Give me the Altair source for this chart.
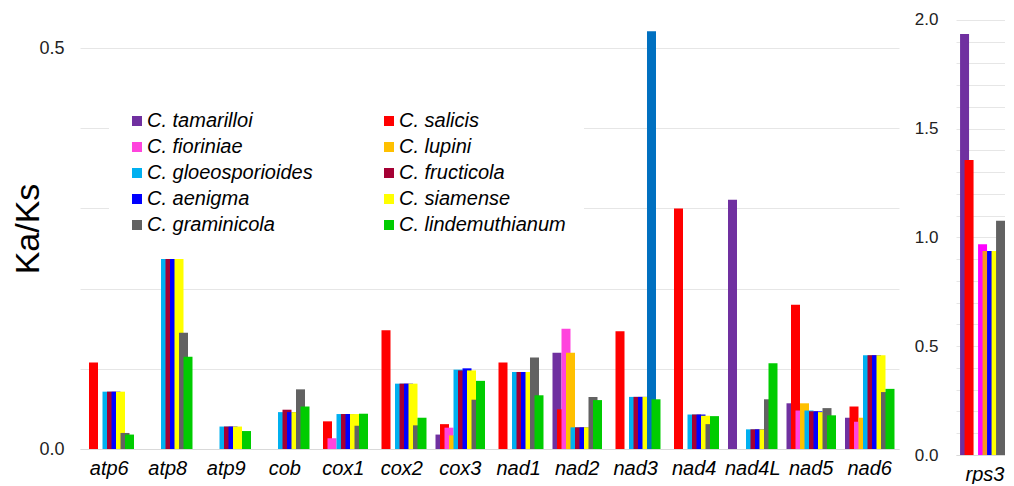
import altair as alt
import pandas as pd

genes = ["atp6", "atp8", "atp9", "cob", "cox1", "cox2", "cox3", "nad1",
         "nad2", "nad3", "nad4", "nad4L", "nad5", "nad6", "rps3"]
species = ["C. tamarilloi", "C. salicis", "C. fioriniae", "C. lupini",
           "C. gloeosporioides", "C. fructicola", "C. aenigma", "C. siamense",
           "C. graminicola", "C. lindemuthianum"]

# Ka/Ks per gene (same order as genes)
tamarilloi = [0, 0, 0, 0, 0, 0, 0.018, 0, 0.120, 0, 0, 0.311, 0.057, 0.039, 1.936]
salicis = [0.108, 0, 0, 0, 0.0345, 0.148, 0.031, 0.108, 0.0495, 0.147, 0.300, 0, 0.180, 0.053, 1.356]
fioriniae = [0, 0, 0, 0, 0.0133, 0, 0.0266, 0, 0.150, 0, 0, 0, 0.048, 0.034, 0]
lupini = [0, 0, 0, 0, 0, 0, 0.017, 0, 0.120, 0, 0, 0, 0.057, 0.039, 0]
gloeosporioides = [0.0715, 0.237, 0.028, 0.046, 0.0436, 0.0815, 0.099, 0.096, 0.027, 0.065, 0.043, 0.0245, 0.048, 0.117, 0.969]
fructicola = [0.0715, 0.237, 0.028, 0.049, 0.0436, 0.0815, 0.098, 0.096, 0.027, 0.065, 0.043, 0.0245, 0.047, 0.117, 0.938]
aenigma = [0.0715, 0.237, 0.028, 0.046, 0.0436, 0.0815, 0.1006, 0.096, 0.027, 0.065, 0.043, 0.0245, 0.047, 0.117, 0.938]
siamense = [0.0715, 0.237, 0.028, 0.046, 0.0436, 0.0815, 0.098, 0.096, 0.027, 0.065, 0.0415, 0.0245, 0.046, 0.117, 0.938]
graminicola = [0.020, 0.145, 0, 0.0744, 0.029, 0.0295, 0.0615, 0.114, 0.065, 0.521, 0.031, 0.062, 0.051, 0.071, 1.077]
lindemuthianum = [0.018, 0.115, 0.0224, 0.053, 0.044, 0.039, 0.085, 0.067, 0.061, 0.062, 0.041, 0.107, 0.042, 0.075, 0]

series = [tamarilloi, salicis, fioriniae, lupini, gloeosporioides,
          fructicola, aenigma, siamense, graminicola, lindemuthianum]

colors = ["#7030A0", "#FF0000", "#FF44DD", "#FFC000", "#00B0F0",
          "#A50034", "#0000FF", "#FFFF00", "#626262", "#00CC00"]

# bars drawn in a different colour in the figure
override_colors = {("nad3", "C. graminicola"): "#0070C0",
                   ("rps3", "C. gloeosporioides"): "#FF00FF",
                   ("rps3", "C. fructicola"): "#F7941D"}

rows = []
for sp, vals in zip(species, series):
    for g, v in zip(genes, vals):
        key = f"{sp} [{g}]" if (g, sp) in override_colors else sp
        rows.append({"gene": g, "species": sp, "value": v, "key": key})
df = pd.DataFrame(rows)
df = df[df["value"] > 0]

color_domain = species + [f"{sp} [{g}]" for (g, sp) in override_colors]
color_range = colors + list(override_colors.values())

left_genes = genes[:-1]
df_left = df[df["gene"].isin(left_genes)]
df_right = df[df["gene"] == "rps3"]

FONT = "Liberation Sans"
BAR_W = 9
grid_left = [round(i * 0.1, 1) for i in range(6)]
grid_right = [round(i * 0.1, 1) for i in range(21)]

xoff = alt.XOffset("species:N", scale=alt.Scale(domain=species, paddingInner=0, paddingOuter=0))

left = alt.Chart(df_left).mark_bar(width=BAR_W).encode(
    x=alt.X("gene:N", sort=left_genes,
            scale=alt.Scale(domain=left_genes, paddingInner=0.2308, paddingOuter=0.1154),
            axis=alt.Axis(title=None, labelAngle=0, labelFontStyle="italic", labelFontSize=20,
                          labelColor="black", ticks=False, labelPadding=9, domainColor="#D9D9D9",
                          grid=False)),
    xOffset=xoff,
    y=alt.Y("value:Q", stack=None,
            scale=alt.Scale(domain=[0, 0.55], nice=False, zero=True),
            axis=alt.Axis(title="Ka/Ks", titleFontSize=34, titleFontWeight="normal",
                          titleColor="black", titlePadding=-7, values=grid_left,
                          labelExpr="datum.value == 0 || datum.value == 0.5 ? format(datum.value, '.1f') : ''",
                          labelFontSize=18, labelColor="#222222", labelPadding=16,
                          ticks=False, domain=False, gridColor="#E6E6E6")),
    color=alt.Color("key:N", scale=alt.Scale(domain=color_domain, range=color_range),
                    legend=alt.Legend(title=None, orient="none", legendX=29, legendY=85,
                                      direction="horizontal", columns=2, values=species,
                                      symbolType="square", symbolSize=100, symbolStrokeWidth=0,
                                      labelFontSize=20, labelFontStyle="italic",
                                      labelColor="black", labelOffset=0, rowPadding=6,
                                      columnPadding=66, padding=18, fillColor="white",
                                      labelLimit=400)),
).properties(width=819, height=441)

right = alt.Chart(df_right).mark_bar(width=BAR_W).encode(
    x=alt.X("gene:N", scale=alt.Scale(domain=["rps3"], paddingInner=0, paddingOuter=0.139),
            axis=alt.Axis(title=None, labelAngle=0, labelFontStyle="italic", labelFontSize=20,
                          labelColor="black", ticks=False, labelPadding=9, domainColor="#D9D9D9",
                          grid=False)),
    xOffset=xoff,
    y=alt.Y("value:Q", stack=None,
            scale=alt.Scale(domain=[0, 2.055], nice=False, zero=True),
            axis=alt.Axis(title=None, values=grid_right,
                          labelExpr="abs(datum.value * 2 - round(datum.value * 2)) < 1e-6 ? format(datum.value, '.1f') : ''",
                          labelFontSize=17, labelColor="#222222", labelPadding=18,
                          ticks=False, domain=False, gridColor="#E6E6E6")),
    color=alt.Color("key:N", scale=alt.Scale(domain=color_domain, range=color_range), legend=None),
).properties(width=58, height=447)

chart = alt.hconcat(left, right, spacing=15, padding={"left": 3, "top": 0, "right": -9, "bottom": 0}
).resolve_scale(color="independent", y="independent", x="independent"
).resolve_legend(color="independent"
).configure(font=FONT).configure_view(stroke=None)

chart.save("out.html", embed_options={"renderer": "svg", "actions": False})
